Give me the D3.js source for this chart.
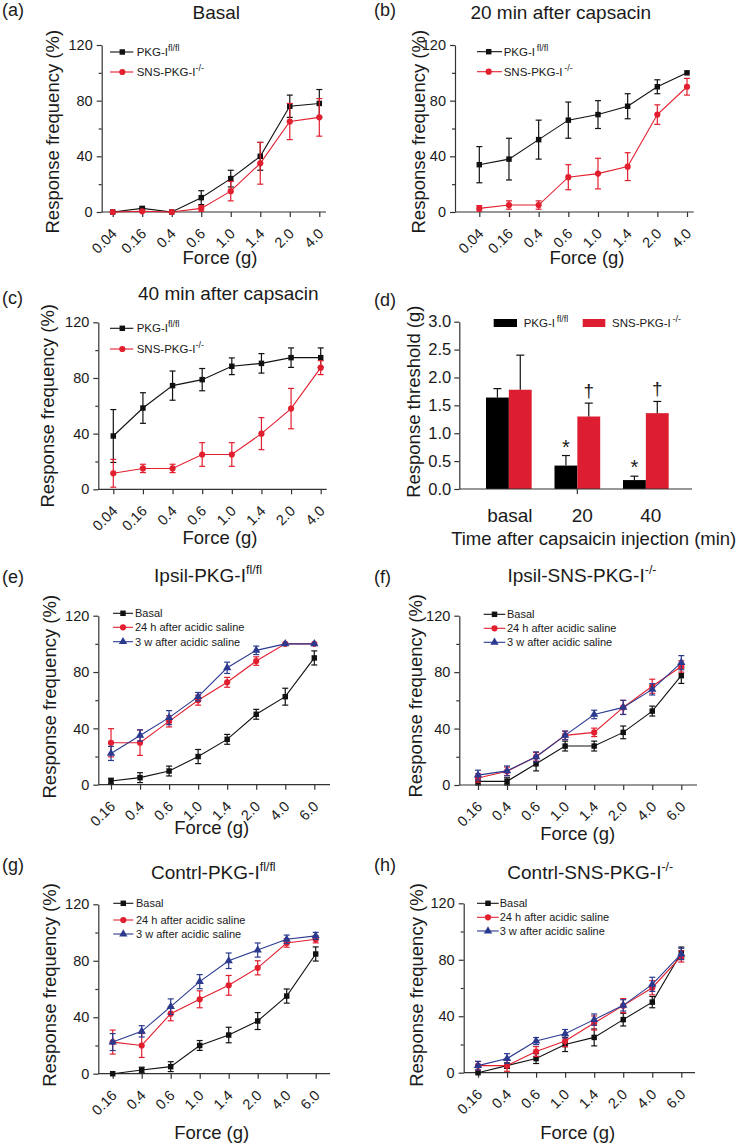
<!DOCTYPE html>
<html><head><meta charset="utf-8">
<script src="https://cdnjs.cloudflare.com/ajax/libs/d3/7.8.5/d3.min.js"></script>
<style>
body{margin:0;background:#fff;}
svg text{font-family:"Liberation Sans",Arial,sans-serif;fill:#1a1a1a;}
</style></head><body><svg id="c" width="745" height="1146"></svg>
<script>
// ---------- DATA ----------
const forceCap = ["0.04","0.16","0.4","0.6","1.0","1.4","2.0","4.0"];
const forceAcid = ["0.16","0.4","0.6","1.0","1.4","2.0","4.0","6.0"];
const yTicksFreq = [0,40,80,120];
const yMinorFreq = [20,60,100];

// (a) Basal
const aFlox = [0,2.6,0,10.3,24,40,76,78];
const aFloxErr = [0,1,0,5,6,10,8,10];
const aSns = [0,0.5,0,2.6,15,35,65,68];
const aSnsErr = [0,0,0,2,7,15,13,13.5];
// (b) 20 min after capsacin
const bFlox = [34,38,52,66,70,76,90,100];
const bFloxErr = [13,15,14,13,10,9,5,0];
const bSns = [2.6,5,5,25,27.6,32.6,70,90];
const bSnsErr = [2,3,3,9,11,10,7,6];
// (c) 40 min after capsacin
const cFlox = [38.3,58.4,74.5,78.8,88.4,90.5,94.6,94.6];
const cFloxErr = [19,11,10.5,8,6,7,7,7];
const cSns = [11.5,15,15,25,25,40,58,87.4];
const cSnsErr = [10,3,3,8.5,8.5,11.5,14.5,5];
// (d) Response threshold
const dGroups = ["basal","20","40"];
const dFlox = [1.64,0.42,0.16];
const dFloxErr = [0.16,0.18,0.07];
const dSns = [1.78,1.30,1.36];
const dSnsErr = [0.62,0.24,0.21];
const dFloxMark = ["","*","*"];
const dSnsMark = ["","\u2020","\u2020"];
const dTicks = [0,0.5,1.0,1.5,2.0,2.5,3.0];
// (e) Ipsil-PKG-I fl/fl
const eBasal = [2.6,5,9.7,20,32.2,50,62.5,90];
const eBasalErr = [2,3.5,3.5,5,3.5,3.5,6,5];
const e24h = [29.8,29.8,45,60,72.7,87.8,100,100];
const e24hErr = [10,9,4,3.5,3.5,3,0,0];
const e3w = [22.2,35,47.6,62.5,83,95.4,100,100];
const e3wErr = [5,4,5,3,4,3,0,0];
// (f) Ipsil-SNS-PKG-I -/-
const fBasal = [2.6,2.6,15,27.6,27.6,37.3,52.4,77.5];
const fBasalErr = [2.5,2.5,5,3.5,3.5,4.5,3.5,5.5];
const f24h = [5,9.7,20,35.2,37.3,55,70,84];
const f24hErr = [3,3,3,3,3,5,5,4];
const f3w = [7,10,20,35.2,50,55,67.8,86.7];
const f3wErr = [3.5,3.5,3.5,3,3,5,4,5];
// (g) Contrl-PKG-I fl/fl
const gBasal = [0,2.6,5,20,27.4,37.3,55,84.8];
const gBasalErr = [0,2,3.5,3.5,5.5,6,5,5];
const g24h = [22.4,20,42.5,52.7,62.6,75,92.6,95.2];
const g24hErr = [8.5,8.5,5,6,7,5,3,2.5];
const g3w = [22.4,30,47.5,65.2,80,87.6,95.2,97.6];
const g3wErr = [6,4,5.5,5,5.5,5,3,2.5];
// (h) Contrl-SNS-PKG-I -/-
const hBasal = [0,5,10,20,25,37.6,50,85];
const hBasalErr = [0,2,3.5,5,6,4.5,4,4];
const h24h = [5,5,15,22.4,35.2,47.5,60.2,82.4];
const h24hErr = [3,4,3.5,4,5,5,5,4];
const h3w = [5,10,22.4,27.6,37.6,47.7,62.6,84.1];
const h3wErr = [3,3.5,2.5,3,4,4,5,4];

// ---------- STYLE ----------
const BLACK = "#111", RED = "#e21f2f", BLUE = "#2b3a8f", AX = "#333";
const svg = d3.select("#c");

function addText(g, x, y, main, sup, fs, supFs, anchor, supDy, gap) {
  const t = g.append("text").attr("x", x).attr("y", y).attr("font-size", fs)
    .attr("text-anchor", anchor || "start");
  t.append("tspan").text(main);
  if (sup) t.append("tspan").attr("font-size", supFs).attr("dy", supDy)
    .text((gap ? "\u2009" : "") + sup);
  return t;
}

function symbolFor(shape) {
  if (shape === "square") return d3.symbol(d3.symbolSquare, 30);
  if (shape === "circle") return d3.symbol(d3.symbolCircle, 30);
  return d3.symbol(d3.symbolTriangle, 30);
}

function linePanel(cfg) {
  const g = svg.append("g");
  const x = d3.scalePoint().domain(cfg.cats).range([cfg.x0, cfg.x1]);
  const y = d3.scaleLinear().domain([0,120]).range([cfg.yBot, cfg.yTop]);

  // y axis
  const ya = g.append("g").attr("transform", `translate(${cfg.ax},0)`)
    .call(d3.axisLeft(y).tickValues(yTicksFreq).tickSize(5).tickSizeOuter(0).tickPadding(4));
  ya.select(".domain").attr("stroke", AX).attr("stroke-width", 1.2);
  ya.selectAll(".tick line").attr("stroke", AX).attr("stroke-width", 1.2);
  ya.selectAll(".tick text").attr("font-size", 14.5).attr("font-family", null).attr("fill", "#1a1a1a");
  const ym = g.append("g").attr("transform", `translate(${cfg.ax},0)`)
    .call(d3.axisLeft(y).tickValues(yMinorFreq).tickSize(3).tickFormat(""));
  ym.select(".domain").remove();
  ym.selectAll(".tick line").attr("stroke", AX).attr("stroke-width", 1.2);

  // x axis
  const xa = g.append("g").attr("transform", `translate(0,${cfg.yBot})`)
    .call(d3.axisBottom(x).tickSize(5).tickSizeOuter(0));
  xa.select(".domain").attr("d", `M${cfg.ax},0H${cfg.xEnd}`).attr("stroke", AX).attr("stroke-width", 1.2);
  xa.selectAll(".tick line").attr("stroke", AX).attr("stroke-width", 1.2);
  xa.selectAll(".tick text").attr("font-size", 14.5).attr("font-family", null).attr("fill", "#1a1a1a")
    .attr("text-anchor", "end").attr("x", 0).attr("y", 0).attr("dy", "0.35em")
    .attr("transform", "translate(1,19) rotate(-45)");

  // series
  const line = d3.line().x((d,i) => x(cfg.cats[i])).y(d => y(d));
  cfg.series.forEach(s => {
    const sg = g.append("g");
    sg.append("path").attr("d", line(s.vals)).attr("fill", "none")
      .attr("stroke", s.color).attr("stroke-width", 1.1);
    s.vals.forEach((v, i) => {
      const e = s.errs[i];
      if (e > 0) {
        const cx = x(cfg.cats[i]);
        sg.append("line").attr("x1", cx).attr("x2", cx).attr("y1", y(Math.max(0, v - e))).attr("y2", y(v + e))
          .attr("stroke", s.color).attr("stroke-width", 1.2);
        [v + e, Math.max(0, v - e)].forEach(yy => sg.append("line")
          .attr("x1", cx - 3).attr("x2", cx + 3).attr("y1", y(yy)).attr("y2", y(yy))
          .attr("stroke", s.color).attr("stroke-width", 1.2));
      }
    });
    sg.selectAll("path.m").data(s.vals).join("path").attr("class", "m")
      .attr("transform", (d,i) => `translate(${x(cfg.cats[i])},${y(d)})`)
      .attr("d", symbolFor(s.shape)).attr("fill", s.color);
  });

  // legend
  const L = cfg.legend;
  cfg.series.forEach((s, i) => {
    const ry = L.rows[i];
    g.append("line").attr("x1", L.lx0).attr("x2", L.lx1).attr("y1", ry).attr("y2", ry)
      .attr("stroke", s.color).attr("stroke-width", 1.1);
    g.append("path").attr("transform", `translate(${L.mx},${ry})`).attr("d", symbolFor(s.shape)).attr("fill", s.color);
    addText(g, L.tx, ry + 4, s.name[0], s.name[1], L.fs, 9, "start", -5, s.name[2]);
  });

  // titles & labels
  addText(g, cfg.titleX, cfg.titleY, cfg.title[0], cfg.title[1], 19, 12.5, "middle", -8);
  g.append("text").attr("x", cfg.letterX).attr("y", cfg.letterY).attr("font-size", 18).text(cfg.letter);
  g.append("text").attr("transform", `translate(${cfg.ylabX},${cfg.ylabY}) rotate(-90)`)
    .attr("text-anchor", "middle").attr("dy", "0.35em").attr("font-size", 18.5).text("Response frequency (%)");
  g.append("text").attr("x", cfg.xlabX).attr("y", cfg.xlabY).attr("text-anchor", "middle")
    .attr("font-size", 18.5).text("Force (g)");
}

const nFlox = ["PKG-I", "fl/fl"], nSns = ["SNS-PKG-I", "-/-"];
const nFloxB = ["PKG-I", "fl/fl", true], nSnsB = ["SNS-PKG-I", "-/-", true];

// (a)
linePanel({cats: forceCap, ax: 101.7, yTop: 45, yBot: 212, x0: 112.7, x1: 319.3, xEnd: 326,
  series: [{vals: aFlox, errs: aFloxErr, color: BLACK, shape: "square", name: nFlox},
           {vals: aSns, errs: aSnsErr, color: RED, shape: "circle", name: nSns}],
  legend: {lx0: 110, lx1: 133.3, mx: 122.3, tx: 136.7, rows: [52, 72], fs: 11.5},
  title: ["Basal"], titleX: 216.3, titleY: 19, letter: "(a)", letterX: 2, letterY: 16,
  ylabX: 53, ylabY: 131.7, xlabX: 220, xlabY: 263.5});
// (b)
linePanel({cats: forceCap, ax: 455, yTop: 45, yBot: 212, x0: 479.3, x1: 687, xEnd: 693.7,
  series: [{vals: bFlox, errs: bFloxErr, color: BLACK, shape: "square", name: nFloxB},
           {vals: bSns, errs: bSnsErr, color: RED, shape: "circle", name: nSnsB}],
  legend: {lx0: 477, lx1: 502, mx: 488.7, tx: 503.7, rows: [51.7, 71.7], fs: 11.5},
  title: ["20 min after capsacin"], titleX: 560.7, titleY: 19, letter: "(b)", letterX: 374, letterY: 16,
  ylabX: 418.7, ylabY: 131.7, xlabX: 587, xlabY: 263.5});
// (c)
linePanel({cats: forceCap, ax: 98.3, yTop: 322.3, yBot: 489.3, x0: 113.3, x1: 320.7, xEnd: 326.7,
  series: [{vals: cFlox, errs: cFloxErr, color: BLACK, shape: "square", name: nFlox},
           {vals: cSns, errs: cSnsErr, color: RED, shape: "circle", name: nSns}],
  legend: {lx0: 110, lx1: 133.3, mx: 122.3, tx: 136.7, rows: [328.3, 349], fs: 11.5},
  title: ["40 min after capsacin"], titleX: 228.3, titleY: 300, letter: "(c)", letterX: 2, letterY: 304,
  ylabX: 47.7, ylabY: 405.8, xlabX: 220, xlabY: 543.5});

// (d) bar chart
(function(){
  const g = svg.append("g");
  const ax = 459.3, yTop = 321.7, yBot = 489, xEnd = 692;
  const x = d3.scaleBand().domain(dGroups).range([ax, xEnd]).paddingInner(0.333).paddingOuter(0.365).align(0.534);
  const xs = d3.scaleBand().domain(["flox","sns"]).range([0, x.bandwidth()]);
  const y = d3.scaleLinear().domain([0,3]).range([yBot, yTop]);
  const ya = g.append("g").attr("transform", `translate(${ax},0)`)
    .call(d3.axisLeft(y).tickValues(dTicks).tickFormat(d3.format(".1f")).tickSize(5).tickSizeOuter(0).tickPadding(3));
  ya.select(".domain").attr("stroke", AX).attr("stroke-width", 1.2);
  ya.selectAll(".tick line").attr("stroke", AX).attr("stroke-width", 1.2);
  ya.selectAll(".tick text").attr("font-size", 16.5).attr("font-family", null).attr("fill", "#1a1a1a");

  const series = [
    {key: "flox", vals: dFlox, errs: dFloxErr, marks: dFloxMark, color: "#000"},
    {key: "sns", vals: dSns, errs: dSnsErr, marks: dSnsMark, color: "#dc1e30"}];
  series.forEach(s => {
    s.vals.forEach((v, i) => {
      const bx = x(dGroups[i]) + xs(s.key), bw = xs.bandwidth();
      g.append("rect").attr("x", bx).attr("width", bw).attr("y", y(v)).attr("height", yBot - y(v)).attr("fill", s.color);
      const cx = bx + bw / 2, top = y(v + s.errs[i]);
      g.append("line").attr("x1", cx).attr("x2", cx).attr("y1", y(v)).attr("y2", top).attr("stroke", "#111").attr("stroke-width", 1.2);
      g.append("line").attr("x1", cx - 4).attr("x2", cx + 4).attr("y1", top).attr("y2", top).attr("stroke", "#111").attr("stroke-width", 1.2);
      if (s.marks[i]) {
        const isStar = s.marks[i] === "*";
        g.append("text").attr("x", cx).attr("y", top - (isStar ? 2 : 6)).attr("text-anchor", "middle")
          .attr("font-size", isStar ? 20 : 19).text(s.marks[i]);
      }
    });
  });
  const xa = g.append("g").attr("transform", `translate(0,${yBot})`)
    .call(d3.axisBottom(d3.scalePoint().domain(dGroups).range([0,0])).tickValues([]).tickSizeOuter(0));
  xa.select(".domain").attr("d", `M${ax},0H${xEnd}`).attr("stroke", AX).attr("stroke-width", 1.2);
  // single tick at "20"
  g.append("line").attr("x1", x("20") + x.bandwidth()/2).attr("x2", x("20") + x.bandwidth()/2)
    .attr("y1", yBot).attr("y2", yBot + 5).attr("stroke", AX).attr("stroke-width", 1.2);
  dGroups.forEach(gr => g.append("text").attr("x", x(gr) + x.bandwidth()/2 + (gr === "basal" ? 1 : 5))
    .attr("y", 522).attr("text-anchor", "middle").attr("font-size", 19).text(gr));

  // legend
  g.append("rect").attr("x", 493.7).attr("y", 319).attr("width", 23.3).attr("height", 8).attr("fill", "#000");
  addText(g, 523.7, 327, "PKG-I", "fl/fl", 11.5, 9, "start", -5, true);
  g.append("rect").attr("x", 582.7).attr("y", 319).attr("width", 22.6).attr("height", 8).attr("fill", "#dc1e30");
  addText(g, 612, 327, "SNS-PKG-I", "-/-", 11.5, 9, "start", -5, true);

  g.append("text").attr("x", 374).attr("y", 306).attr("font-size", 18).text("(d)");
  g.append("text").attr("transform", `translate(413.7,401.7) rotate(-90)`).attr("text-anchor", "middle")
    .attr("dy", "0.35em").attr("font-size", 18.5).text("Response threshold (g)");
  g.append("text").attr("x", 593.7).attr("y", 545).attr("text-anchor", "middle").attr("font-size", 18.5)
    .text("Time after capsaicin injection (min)");
})();

const nBasal = ["Basal"], n24 = ["24 h after acidic saline"], n3w = ["3 w after acidic saline"];
// (e)
linePanel({cats: forceAcid, ax: 98.3, yTop: 615.7, yBot: 784.7, x0: 111, x1: 314.3, xEnd: 330,
  series: [{vals: eBasal, errs: eBasalErr, color: BLACK, shape: "square", name: nBasal},
           {vals: e24h, errs: e24hErr, color: RED, shape: "circle", name: n24},
           {vals: e3w, errs: e3wErr, color: BLUE, shape: "triangle", name: n3w}],
  legend: {lx0: 113, lx1: 133, mx: 123, tx: 135, rows: [613.3, 627.3, 641.7], fs: 11},
  title: ["Ipsil-PKG-I", "fl/fl"], titleX: 208, titleY: 582, letter: "(e)", letterX: 2, letterY: 583,
  ylabX: 50, ylabY: 696.7, xlabX: 211.7, xlabY: 833.5});
// (f)
linePanel({cats: forceAcid, ax: 459.3, yTop: 615.7, yBot: 785, x0: 478, x1: 681.3, xEnd: 697,
  series: [{vals: fBasal, errs: fBasalErr, color: BLACK, shape: "square", name: nBasal},
           {vals: f24h, errs: f24hErr, color: RED, shape: "circle", name: n24},
           {vals: f3w, errs: f3wErr, color: BLUE, shape: "triangle", name: n3w}],
  legend: {lx0: 483.7, lx1: 505.3, mx: 494.5, tx: 507, rows: [614.3, 628.3, 642.3], fs: 11},
  title: ["Ipsil-SNS-PKG-I", "-/-"], titleX: 582, titleY: 582, letter: "(f)", letterX: 374, letterY: 583,
  ylabX: 415.3, ylabY: 695.8, xlabX: 577.7, xlabY: 840});
// (g)
linePanel({cats: forceAcid, ax: 98.3, yTop: 904.3, yBot: 1073.7, x0: 112.7, x1: 315.7, xEnd: 330,
  series: [{vals: gBasal, errs: gBasalErr, color: BLACK, shape: "square", name: nBasal},
           {vals: g24h, errs: g24hErr, color: RED, shape: "circle", name: n24},
           {vals: g3w, errs: g3wErr, color: BLUE, shape: "triangle", name: n3w}],
  legend: {lx0: 113.3, lx1: 133.3, mx: 123.3, tx: 136, rows: [903.3, 920, 934], fs: 11},
  title: ["Contrl-PKG-I", "fl/fl"], titleX: 213.3, titleY: 879, letter: "(g)", letterX: 2, letterY: 871,
  ylabX: 50, ylabY: 985, xlabX: 211.7, xlabY: 1138.5});
// (h)
linePanel({cats: forceAcid, ax: 463.7, yTop: 903.3, yBot: 1072.7, x0: 478, x1: 681.3, xEnd: 695,
  series: [{vals: hBasal, errs: hBasalErr, color: BLACK, shape: "square", name: nBasal},
           {vals: h24h, errs: h24hErr, color: RED, shape: "circle", name: n24},
           {vals: h3w, errs: h3wErr, color: BLUE, shape: "triangle", name: n3w}],
  legend: {lx0: 477, lx1: 498.7, mx: 488, tx: 499.7, rows: [903.3, 917.3, 931], fs: 11},
  title: ["Contrl-SNS-PKG-I", "-/-"], titleX: 590.3, titleY: 879, letter: "(h)", letterX: 374, letterY: 871,
  ylabX: 417, ylabY: 985, xlabX: 577.7, xlabY: 1138.5});
</script></body></html>
